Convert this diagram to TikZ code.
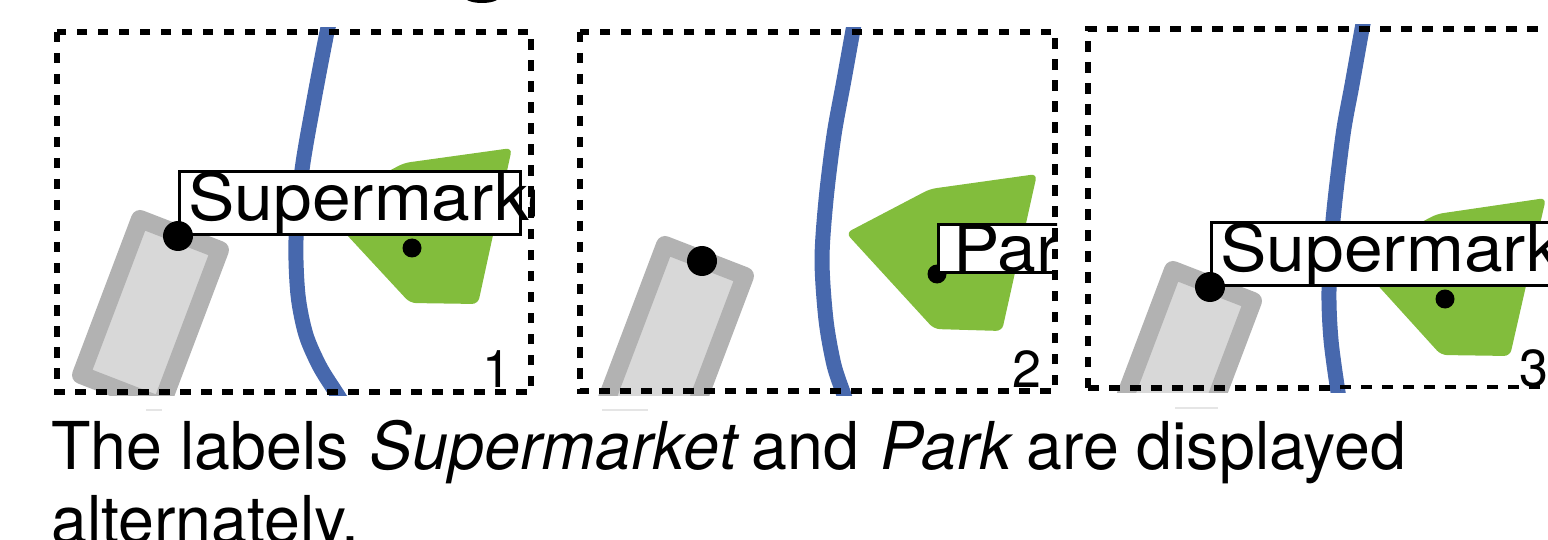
\documentclass[tikz,border=0pt]{standalone}
\usepackage{fontspec}
\setmainfont{TeX Gyre Heros}
\newfontfamily\labelfont[FakeStretch=1.07]{TeX Gyre Heros}
\newfontfamily\capfont[FakeStretch=0.977]{TeX Gyre Heros}
\definecolor{roadblue}{HTML}{4768AD}
\definecolor{parkgreen}{HTML}{82BD3C}
\definecolor{shopedge}{HTML}{B2B2B2}
\definecolor{shopfill}{HTML}{D8D8D8}
\tikzset{
    frameline/.style={line width=6.5pt, dash pattern=on 10.5pt off 10.5pt},
    road/.style={line width=15pt, color=roadblue},
    park/.style={fill=parkgreen, rounded corners=6pt},
    shop/.style={line width=18pt, line join=round, draw=shopedge, fill=shopfill},
    bigdot/.style={circle, fill=black, inner sep=0pt, minimum size=30pt},
    smalldot/.style={circle, fill=black, inner sep=0pt, minimum size=19pt},
    maplabel/.style={draw, fill=white, line width=3pt, inner sep=0pt, anchor=south west, font=\labelfont\fontsize{65}{79}\selectfont},
    panelnum/.style={anchor=base east, inner sep=0pt, font=\fontsize{52}{60}\selectfont},
    trace/.style={color=black!10, line width=2pt}
}
\begin{document}
\begin{tikzpicture}[x=1pt, y=-1pt]
    \useasboundingbox (0,0) rectangle (1548,540);
    \fill (467,0) .. controls (474,4) and (490,4) .. (497,0) -- cycle;
    % first panel
    \begin{scope}
        \clip (54,28) rectangle (534,395);
        \draw[shop] (140,219) -- (220,250) -- (161,406) -- (81,375) -- cycle;
        \draw[road] plot[smooth] coordinates {(330,22) (327,32) (314,100) (302,170) (296,240) (298,295) (306,335) (320,367) (337,394) (342,402)};
        \fill[park] (404,163) -- (512,148) -- (478,304) -- (410,303) -- (321,207) -- cycle;
        \node[smalldot] (smalldotA) at (412,248) {};
        \node[maplabel] (labelA) at (178,236) {\makebox[341pt][l]{\hspace*{9pt}Supermarket}};
        \node[bigdot] (bigdotA) at (178,236) {};
        \node[panelnum] (numA) at (512,387) {1};
    \end{scope}
    \draw[frameline] (57,32) rectangle (531,392);
    % second panel
    \begin{scope}
        \clip (577,28) rectangle (1057,395);
        \draw[shop] (665,245) -- (745,276) -- (686,432) -- (606,401) -- cycle;
        \draw[road] plot[smooth] coordinates {(855,20) (853,30) (844,80) (834,135) (826,200) (822,260) (826,320) (834,365) (844,395) (846,402)};
        \fill[park] (930,189) -- (1037,174) -- (1002,331) -- (934,329) -- (846,233) -- cycle;
        \node[smalldot] (smalldotB) at (937,274) {};
        \node[maplabel] (labelB) at (937,274) {\makebox[150pt][l]{\hspace*{15pt}Park}};
        \node[bigdot] (bigdotB) at (702,261) {};
        \node[panelnum] (numB) at (1042,387) {2};
    \end{scope}
    \draw[frameline] (580,32) rectangle (1055,391);
    % third panel
    \begin{scope}
        \clip (1085,25) rectangle (1548,392);
        \draw[shop] (1173,270) -- (1253,301) -- (1194,457) -- (1114,426) -- cycle;
        \draw[road] plot[smooth] coordinates {(1364,20) (1362,29) (1352,85) (1343,135) (1333,220) (1329,290) (1331,340) (1338,392) (1340,400)};
        \fill[park] (1437,214) -- (1546,198) -- (1510,356) -- (1441,355) -- (1353,258) -- cycle;
        \node[smalldot] (smalldotC) at (1445,299) {};
        \node[maplabel] (labelC) at (1210,287) {\makebox[341pt][l]{\hspace*{9pt}Supermarket}};
        \node[bigdot] (bigdotC) at (1210,287) {};
        \node[panelnum] (numC) at (1549,386) {3};
    \end{scope}
    \draw[frameline] (1088,388) -- (1088,29) -- (1548,29);
    \draw[frameline] (1088,388) -- (1340,388);
    \draw[frameline, line width=3.5pt] (1340,387) -- (1548,387);
    % leftovers under the panels
    \draw[trace] (146,410) -- (162,410);
    \draw[trace] (602,410) -- (648,410);
    \draw[trace] (1175,408) -- (1218,408);
    \node[anchor=north west, inner sep=0pt, align=left, font=\capfont\fontsize{66}{74}\selectfont] (caption) at (51,420)
        {The labels {\addfontfeature{FakeSlant=0.2}Supermarket} and {\addfontfeature{FakeSlant=0.2}Park} are displayed\\alternately.};
\end{tikzpicture}
\end{document}
